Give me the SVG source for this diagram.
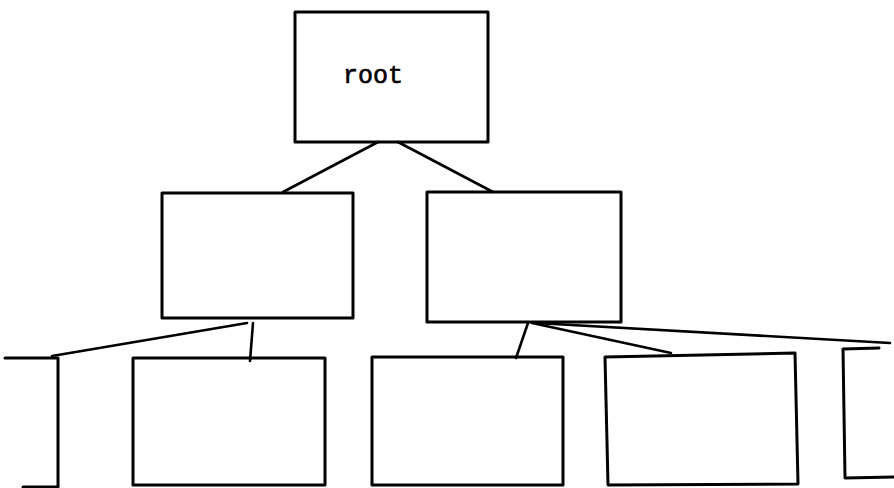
<svg xmlns="http://www.w3.org/2000/svg" width="894" height="488" viewBox="0 0 894 488">
  <style>
    .box { fill: none; stroke: #000; stroke-width: 3; stroke-linejoin: round; stroke-linecap: round; }
    .edge { fill: none; stroke: #000; stroke-width: 2.6; stroke-linecap: round; }
    .label { font-family: "Liberation Mono", "Courier New", monospace; font-size: 25px; fill: #000; stroke: #000; stroke-width: 0.6; }
  </style>
  <rect width="894" height="488" fill="#fff"/>

  <!-- connectors -->
  <g id="connectors">
    <line class="edge" x1="378" y1="142" x2="283" y2="192"/>
    <line class="edge" x1="398" y1="142" x2="493" y2="192"/>
    <line class="edge" x1="247" y1="323" x2="52" y2="356"/>
    <line class="edge" x1="253" y1="323" x2="250" y2="361"/>
    <line class="edge" x1="528" y1="323" x2="516" y2="358"/>
    <line class="edge" x1="532" y1="323" x2="671" y2="353"/>
    <line class="edge" x1="536" y1="323" x2="890" y2="343"/>
  </g>

  <!-- root -->
  <g id="root">
    <rect class="box" x="295" y="12" width="193" height="130"/>
    <text class="label" x="343" y="83">root</text>
  </g>

  <!-- second level -->
  <g id="node-left">
    <rect class="box" x="162" y="193" width="191" height="125"/>
  </g>
  <g id="node-right">
    <rect class="box" x="427" y="192" width="194" height="130"/>
  </g>

  <!-- leaves -->
  <g id="leaf-1">
    <polyline class="box" points="5,358 58,358 58,487 23,487"/>
  </g>
  <g id="leaf-2">
    <rect class="box" x="133" y="358" width="192" height="127"/>
  </g>
  <g id="leaf-3">
    <rect class="box" x="372" y="357" width="191" height="128"/>
  </g>
  <g id="leaf-4">
    <polygon class="box" points="605,357 795,353 798,484 608,485"/>
  </g>
  <g id="leaf-5">
    <polyline class="box" points="879,348 843,349 845,478 894,477"/>
  </g>
</svg>
